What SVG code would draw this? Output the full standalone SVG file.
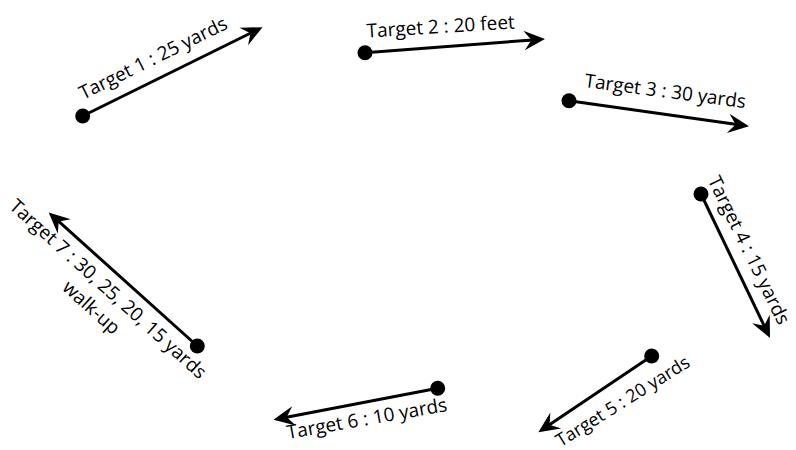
<svg xmlns="http://www.w3.org/2000/svg" width="796" height="450" viewBox="0 0 796 450">
<defs>
<marker id="ah" markerUnits="userSpaceOnUse" markerWidth="30" markerHeight="30" viewBox="-10 -10 20 20" refX="0" refY="0" orient="auto">
<path d="M8,0 L-6,-6.5 L-1,0 L-6,6.5 Z" fill="#000"/>
</marker>
</defs>
<style>
.ln{stroke:#000;stroke-width:3;fill:none;marker-end:url(#ah)}
.dot{fill:#000}
.lb{font-family:"Open Sans","Liberation Sans",sans-serif;font-size:19px;fill:#000;text-anchor:middle}
</style>
<g id="connectors">
<line class="ln" x1="82.7" y1="116" x2="251.8" y2="32.5"/>
<line class="ln" x1="365" y1="52.7" x2="533" y2="39.9"/>
<line class="ln" x1="569" y1="100.7" x2="737.1" y2="124.6"/>
<line class="ln" x1="701" y1="194" x2="764.8" y2="327.1"/>
<line class="ln" x1="651.7" y1="356" x2="548.3" y2="425.5"/>
<line class="ln" x1="437.7" y1="388.3" x2="285.2" y2="417.5"/>
<line class="ln" x1="197.3" y1="346" x2="57.6" y2="220.4"/>
</g>
<g id="target1"><circle class="dot" cx="82.7" cy="116" r="7.5"/><text class="lb" transform="translate(156,64) rotate(-26.3)">Target 1 : 25 yards</text></g>
<g id="target2"><circle class="dot" cx="365" cy="52.7" r="7.5"/><text class="lb" transform="translate(441,33) rotate(-3.5)">Target 2 : 20 feet</text></g>
<g id="target3"><circle class="dot" cx="569" cy="100.7" r="7.5"/><text class="lb" transform="translate(664.5,97.5) rotate(7.5)">Target 3 : 30 yards</text></g>
<g id="target4"><circle class="dot" cx="701" cy="194" r="7.5"/><text class="lb" transform="translate(743,253) rotate(64)">Target 4 : 15 yards</text></g>
<g id="target5"><circle class="dot" cx="651.7" cy="356" r="7.5"/><text class="lb" style="font-size:18px" transform="translate(626,406.5) rotate(-32)">Target 5 : 20 yards</text></g>
<g id="target6"><circle class="dot" cx="437.7" cy="388.3" r="7.5"/><text class="lb" transform="translate(368,425) rotate(-10)">Target 6 : 10 yards</text></g>
<g id="target7"><circle class="dot" cx="197.3" cy="346" r="7.5"/><text class="lb" transform="translate(103.7,293.7) rotate(42)"><tspan x="0" y="0">Target 7 : 30, 25, 20, 15 yards</tspan><tspan x="0" y="25">walk-up</tspan></text></g>
</svg>
